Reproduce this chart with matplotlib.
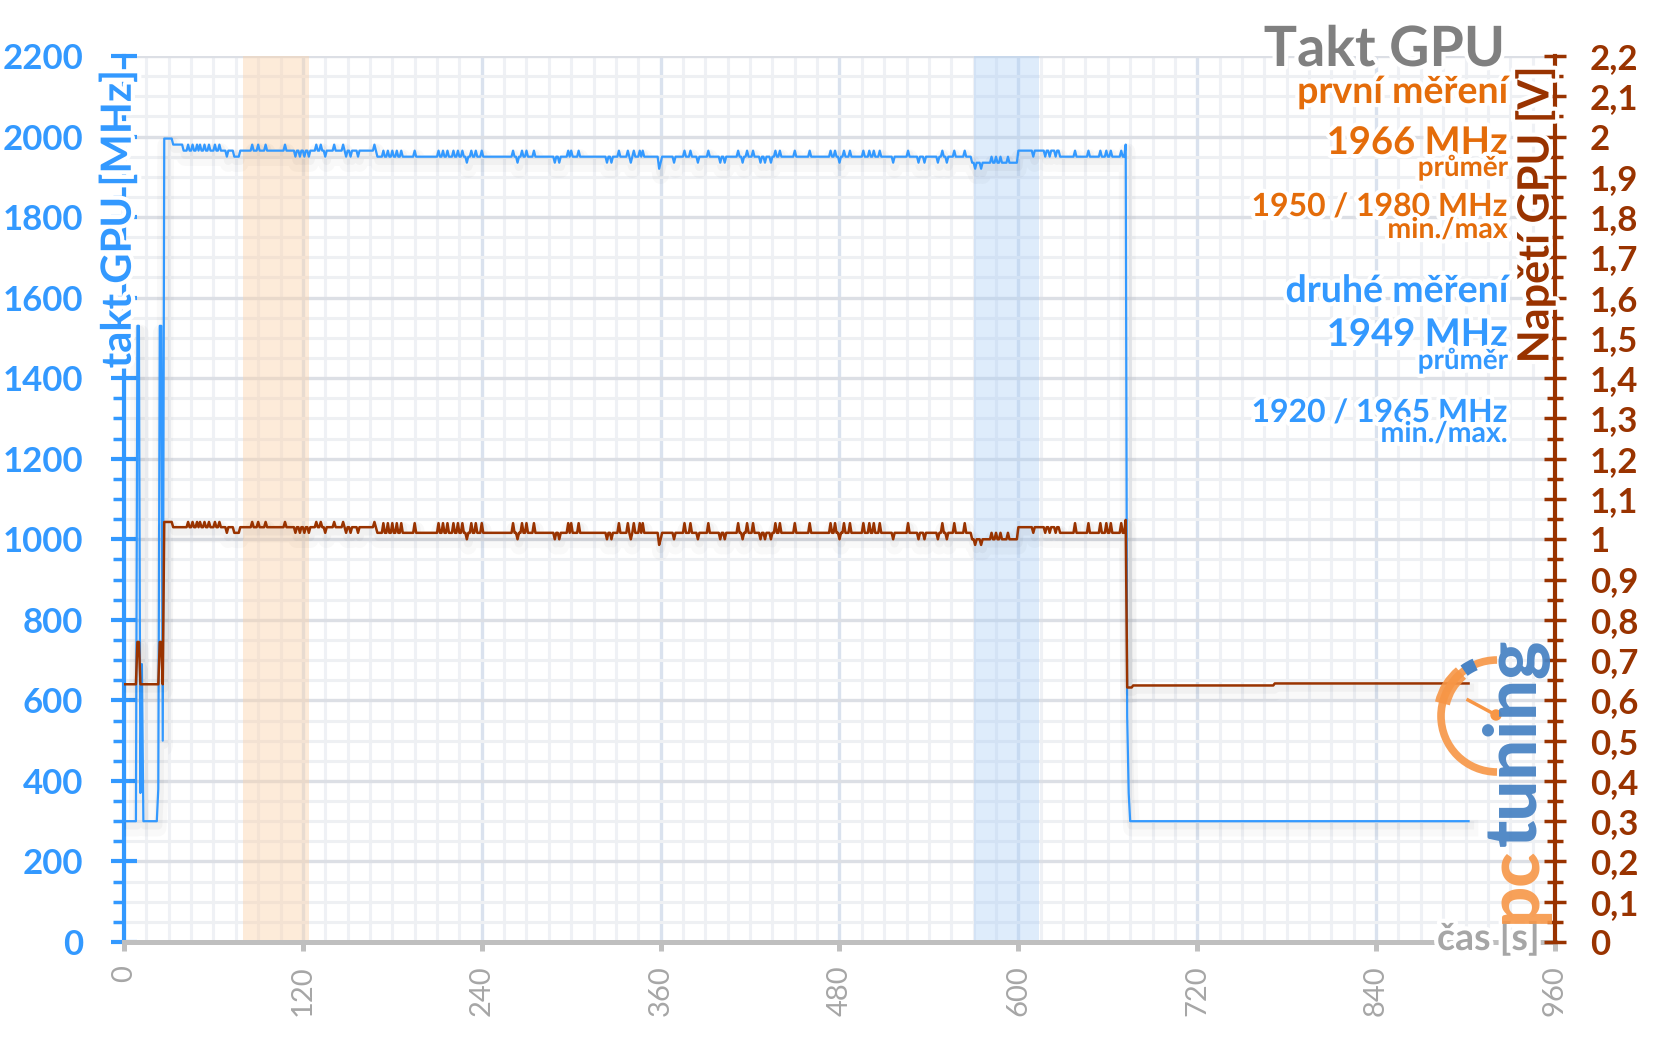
import numpy as np
import matplotlib.pyplot as plt
import matplotlib.patheffects as pe
from matplotlib.patches import Arc, Circle
from matplotlib.ticker import MultipleLocator

plt.rcParams['font.family'] = ['Lato', 'DejaVu Sans']

W, H = 1656, 1044

# base level of each stretch: start [s], takt [MHz], napeti [V]
seg_start = [0, 27, 33, 40, 170, 569, 600, 628, 675, 677, 772]
seg_clock = [300, 1995, 1980, 1965, 1950, 1935, 1965, 1950, 300, 300, 300]
seg_volt = [0.64, 1.043, 1.03, 1.03, 1.016, 1.0, 1.03, 1.016, 0.632, 0.637, 0.642]
t_end = 902

# single-sample deviations from the base level
boot_t = [9, 10, 11, 12, 23, 24, 25, 26]
boot_clock = [1530, 1530, 370, 690, 380, 1530, 1530, 500]
boot_volt = [0.745, 0.745, 0.64, 0.64, 0.64, 0.745, 0.745, 0.64]

peak1980_t = [43, 46, 49, 51, 54, 57, 61, 64, 86, 90, 95, 108, 129, 132, 141, 147, 168]
dip1950_t = [69, 74, 75, 76, 77, 115, 118, 121, 124, 135, 149, 152, 157]
peak1965_t = [174, 177, 180, 183, 186, 195, 211, 214, 217, 221, 224, 227, 233, 236, 240,
              261, 267, 270, 275, 298, 300, 305, 332, 338, 342, 346, 348, 376, 380, 392,
              412, 418, 422, 437, 440, 450, 460, 474, 477, 483, 487, 496, 500, 503, 507,
              526, 549, 557, 564, 638, 647, 655, 659, 662, 669]
dip1935_t = [230, 264, 289, 292, 324, 327, 340, 360, 369, 385, 400, 403, 415, 427, 430,
             434, 480, 516, 533, 537, 546, 552]
dip1920_t = [359, 571, 575]
peak1950_t = [582, 585, 588, 593]
dip1950b_t = [610, 618, 621, 625]
drop_t = [672, 673, 674]
drop_clock = [1980, 560, 370]
drop_volt = [1.048, 0.632, 0.632]

band1 = (80, 124)
band2 = (570, 614)

x_ticks = list(range(0, 961, 120))
y_ticks = list(range(0, 2201, 200))
v_ticks = [round(v * 0.1, 1) for v in range(23)]

groups = [
    (boot_t, boot_clock, boot_volt),
    (peak1980_t, 1980, 1.043),
    (dip1950_t, 1950, 1.016),
    (peak1965_t, 1965, 1.04),
    (dip1935_t, 1935, 1.0),
    (dip1920_t, 1920, 0.986),
    (peak1950_t, 1950, 1.016),
    (dip1950b_t, 1950, 1.016),
    (drop_t, drop_clock, drop_volt),
]

t = np.arange(0, t_end + 1)
idx = np.searchsorted(seg_start, t, side='right') - 1
clock = np.array(seg_clock, dtype=float)[idx]
volt = np.array(seg_volt)[idx]
for times, c, v in groups:
    clock[times] = c
    volt[times] = v

BLUE = '#3399ff'
BROWN = '#993300'
ORANGE = '#e46c0a'
GRAY = '#a6a6a6'
glow = [pe.withStroke(linewidth=6, foreground='white')]

fig = plt.figure(figsize=(W / 100, H / 100), dpi=100)
ax = fig.add_axes([124 / W, 1 - 942 / H, (1555 - 124) / W, (942 - 56) / H])
ax.set_xlim(0, 960)
ax.set_ylim(0, 2200)

ax.xaxis.set_minor_locator(MultipleLocator(15))
ax.yaxis.set_minor_locator(MultipleLocator(50))
ax.grid(which='minor', axis='y', color='#eef0f3', lw=2.2)
ax.grid(which='minor', axis='x', color='#eff1f5', lw=2.2)
ax.grid(which='major', axis='y', color='#dcdfe5', lw=2.4)
ax.grid(which='major', axis='x', color='#dae2ee', lw=2.4)
ax.set_axisbelow(True)

ax.axvspan(*band1, color='#fbd3ac', alpha=0.45, lw=0, zorder=1)
ax.axvspan(*band2, color='#a9cdf7', alpha=0.38, lw=0, zorder=1)

shadow = [pe.SimpleLineShadow(offset=(1, -5), shadow_color='black', alpha=0.025, linewidth=12),
          pe.SimpleLineShadow(offset=(1, -3), shadow_color='black', alpha=0.03, linewidth=6),
          pe.Normal()]
ax.plot(t, clock, color=BLUE, lw=1.6, zorder=3, path_effects=shadow)

ax.set_xticks(x_ticks, labels=[str(v) for v in x_ticks], rotation=90, fontsize=21,
              color=GRAY, fontweight='normal')
ax.set_yticks(y_ticks, labels=[str(v) for v in y_ticks], fontsize=25,
              color=BLUE, fontweight='bold')
ax.tick_params(axis='y', which='major', direction='inout', length=19, width=3,
               color=BLUE, pad=20)
ax.tick_params(axis='y', which='minor', direction='out', length=8, width=2.5, color=BLUE)
ax.tick_params(axis='x', which='major', direction='out', length=6.5, width=3.6,
               color='#bfbfbf', pad=10)
ax.tick_params(axis='x', which='minor', length=0)

for s in ['top', 'right']:
    ax.spines[s].set_visible(False)
ax.spines['left'].set_color(BLUE)
ax.spines['left'].set_linewidth(3)
ax.spines['bottom'].set_color('#bfbfbf')
ax.spines['bottom'].set_linewidth(3.6)

ax2 = ax.twinx()
ax2.set_ylim(0, 2.2)
ax2.plot(t, volt, color=BROWN, lw=1.8, zorder=3, path_effects=shadow)
ax2.set_yticks(v_ticks, labels=[('%g' % v).replace('.', ',') for v in v_ticks],
               fontsize=25, color=BROWN, fontweight='bold')
ax2.yaxis.set_minor_locator(MultipleLocator(0.05))
ax2.tick_params(axis='y', which='major', direction='inout', length=16, width=2.5,
                color=BROWN, pad=17)
ax2.tick_params(axis='y', which='minor', direction='inout', length=12, width=2.5,
                color=BROWN)
for s in ['top', 'left', 'bottom']:
    ax2.spines[s].set_visible(False)
ax2.spines['right'].set_color(BROWN)
ax2.spines['right'].set_linewidth(3)

ax2.text(-0.004, 0.984, 'takt GPU [MHz]', transform=ax.transAxes, rotation=90,
         ha='center', va='top', color=BLUE, fontsize=30, fontweight='bold',
         path_effects=glow, zorder=10, clip_on=False)
ax2.text(0.986, 0.988, 'Napětí GPU [V]', transform=ax.transAxes, rotation=90,
         ha='center', va='top', color=BROWN, fontsize=31, fontweight='bold',
         path_effects=glow, zorder=10, clip_on=False)
ax2.text(0.9895, -0.009, 'čas [s]', transform=ax.transAxes, ha='right', va='baseline',
         color=GRAY, fontsize=27, fontweight='bold', path_effects=glow, zorder=10,
         clip_on=False)


def ftext(x, y, s, size, color):
    fig.text(x / W, 1 - y / H, s, ha='right', va='baseline', fontsize=size,
             fontweight='bold', color=color, path_effects=glow, zorder=20)


ftext(1505, 66, 'Takt GPU', 40, '#808080')
ftext(1508, 103, 'první měření', 27, ORANGE)
ftext(1508, 154, '1966 MHz', 27.5, ORANGE)
ftext(1508, 176, 'průměr', 20, ORANGE)
ftext(1508, 216, '1950 / 1980 MHz', 23, ORANGE)
ftext(1508, 238, 'min./max', 20.5, ORANGE)
ftext(1508, 302, 'druhé měření', 27, BLUE)
ftext(1508, 346, '1949 MHz', 27.5, BLUE)
ftext(1508, 369, 'průměr', 20, BLUE)
ftext(1508, 422, '1920 / 1965 MHz', 23, BLUE)
ftext(1508, 442, 'min./max.', 20.5, BLUE)

# pctuning logo
lax = fig.add_axes([0, 0, 1, 1], zorder=5)
lax.set_xlim(0, W)
lax.set_ylim(H, 0)
lax.axis('off')
lax.patch.set_alpha(0)
LOGO_O = '#f79646'
LOGO_B = '#4a84c4'
lax.add_patch(Arc((1497, 716), 112, 112, theta1=90, theta2=270, lw=5.5, color=LOGO_O, alpha=0.9))
lax.add_patch(Arc((1497, 716), 112, 112, theta1=193, theta2=230, lw=11, color=LOGO_O, alpha=0.9))
lax.add_patch(Arc((1497, 716), 112, 112, theta1=234, theta2=247, lw=9, color=LOGO_B))
lax.plot([1496, 1468], [715, 700], color=LOGO_O, lw=2.5)
lax.add_patch(Circle((1496, 715), 5, color=LOGO_O))
lax.text(1536, 923, 'pc', rotation=90, rotation_mode='anchor', ha='left', va='baseline',
         fontsize=52, fontweight='black', color=LOGO_O, alpha=0.9)
lax.text(1536, 846, 'tuning', rotation=90, rotation_mode='anchor', ha='left',
         va='baseline', fontsize=52, fontweight='black', color=LOGO_B, alpha=0.95)

fig.savefig('out.png', dpi=100, facecolor='white')
